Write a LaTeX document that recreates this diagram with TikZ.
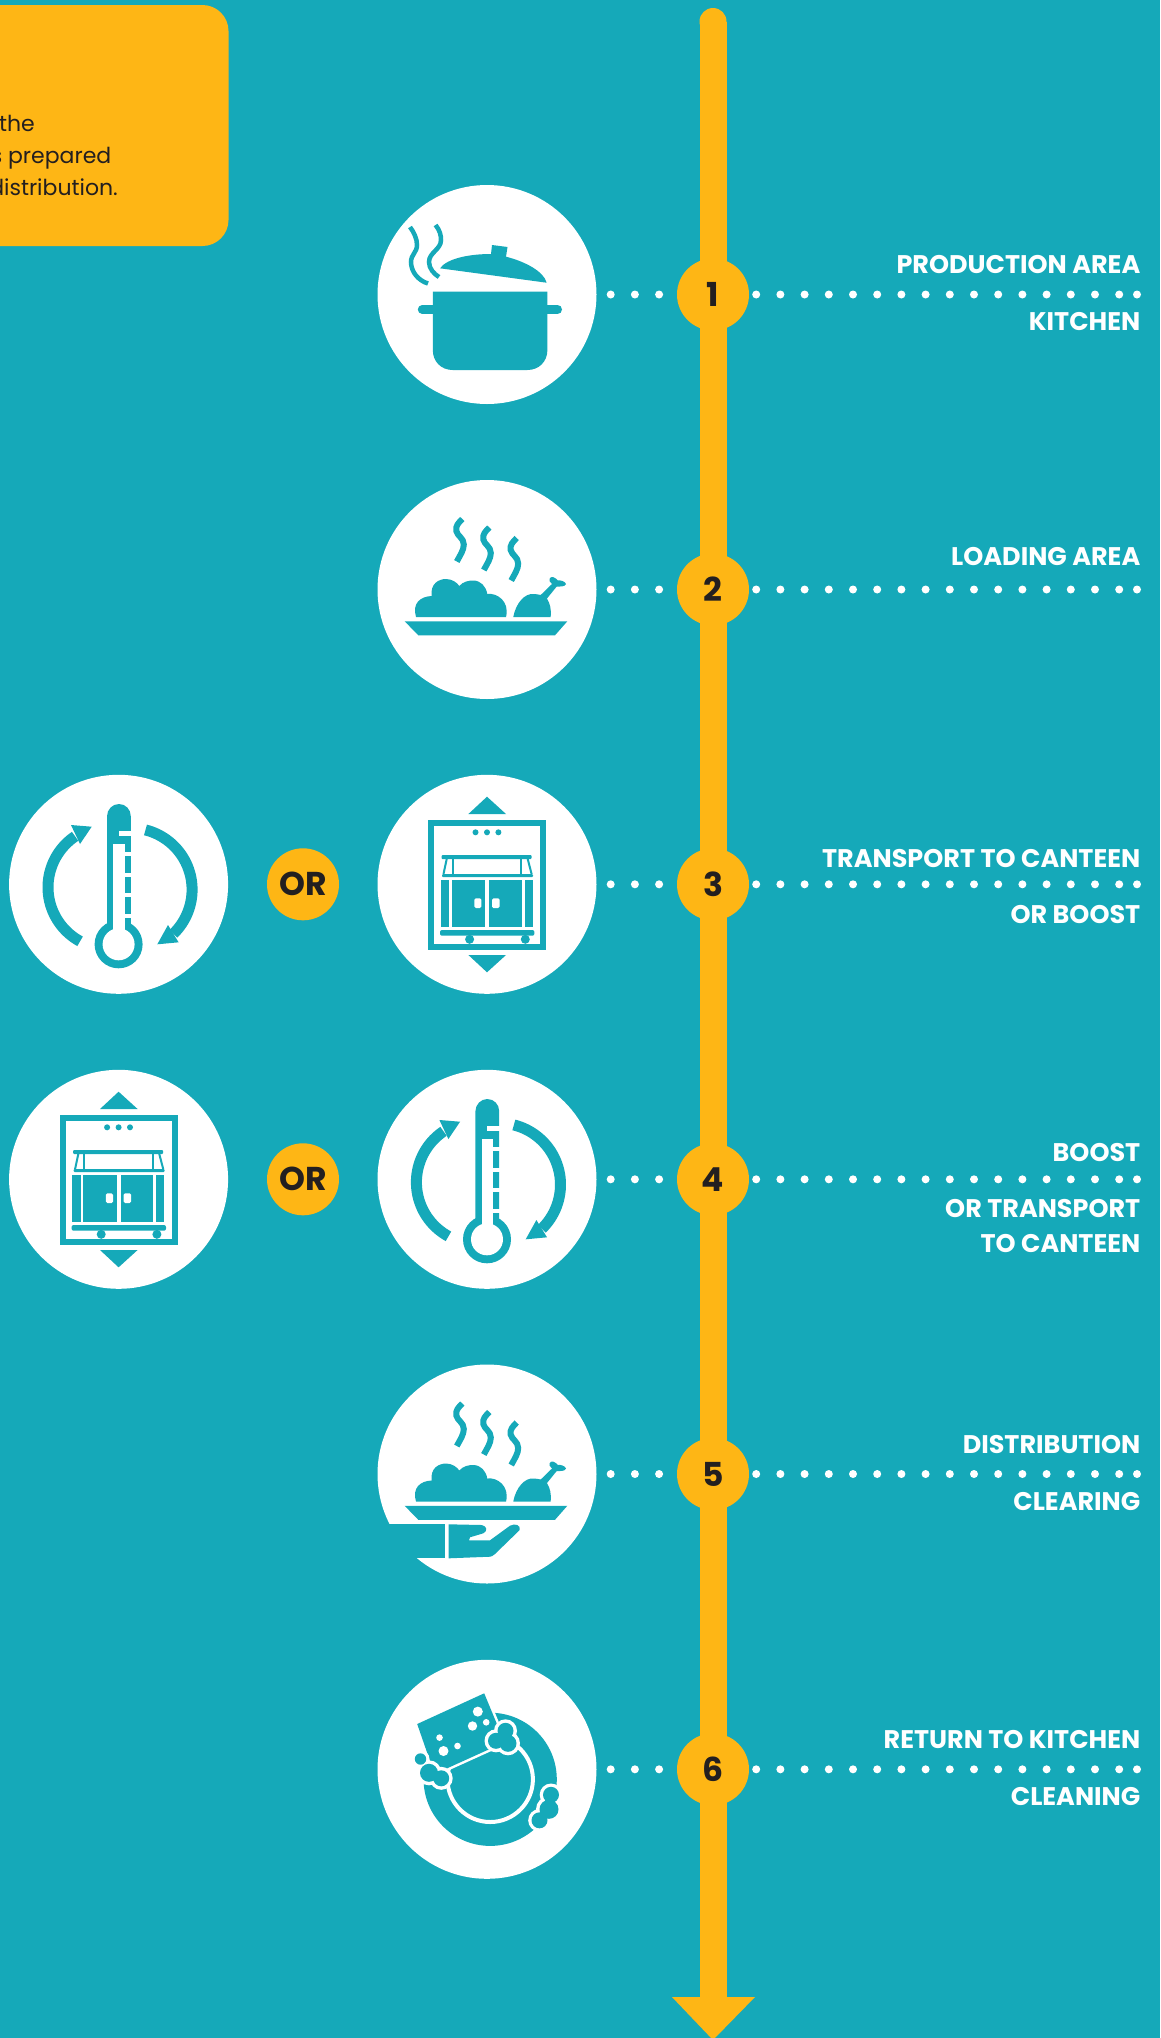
\documentclass[tikz,border=0pt]{standalone}
\usepackage{fontspec}
\setmainfont{Poppins}
\definecolor{tealbg}{HTML}{15A9B9}
\definecolor{amber}{HTML}{FEB615}
\definecolor{ink}{HTML}{231F20}
\newcommand{\squig}[2]{\begin{scope}[shift={(#1,#2)}]\draw[tealbg,line width=6pt] (0,0) .. controls (-4,4) and (-7,7) .. (-6,12) .. controls (-5,17) and (1.5,19) .. (1.5,25.5) .. controls (1.5,31) and (-2,36) .. (-5.5,42.5);\end{scope}}
\tikzset{
  disc/.style={circle,fill=white,minimum size=219pt,inner sep=0pt},
  numdisc/.style={circle,fill=amber,text=ink,minimum size=72pt,inner sep=0pt,font=\fontsize{33}{33}\bfseries\selectfont},
  lab/.style={text=white,inner sep=0pt,anchor=base east,font=\fontsize{25.5}{30}\bfseries\selectfont},
  bodytext/.style={text=ink,inner sep=0pt,anchor=base east,font=\fontsize{22}{30}\selectfont},
  dotline/.style={white,line width=8pt,line cap=round,dash pattern=on 0pt off 24.2pt},
  enddot/.style={circle,fill=white,minimum size=8pt,inner sep=0pt},
  pics/pot/.style={code={
    \draw[tealbg,line width=9pt,line cap=round] (-64.7,15) -- (70.5,15);
    \fill[tealbg] (-54.2,-2.8) -- (60.4,-2.8) -- (60.4,55.5) .. controls (60.4,67) and (52,75.5) .. (40.4,75.5) -- (-34.2,75.5) .. controls (-46,75.5) and (-54.2,67) .. (-54.2,55.5) -- cycle;
    \fill[tealbg] (-47,-26.2) .. controls (-40,-36) and (-18,-40.5) .. (4,-40.5) -- (5,-49.5) -- (20.5,-47.5) -- (19,-37.8) .. controls (38,-33) and (57,-23) .. (59.6,-11.8) -- cycle;
    \draw[tealbg,line width=4.5pt] (-77,-67.5) .. controls (-73,-62) and (-70,-56) .. (-70,-49.5) .. controls (-70,-42) and (-76,-40) .. (-76,-32.5) .. controls (-76,-23) and (-69,-14) .. (-59,-11);
    \draw[tealbg,line width=4.5pt] (-51.4,-69.5) .. controls (-47,-64) and (-46,-59) .. (-46,-54.5) .. controls (-46,-45) and (-58,-42) .. (-58,-32.5) .. controls (-58,-26) and (-53,-20.5) .. (-48,-17.5);
  }},
  pics/dish/.style={code={
    \squig{-24.7}{-70.5}\squig{2.3}{-62}\squig{29.7}{-51.5}
    \fill[tealbg] (-82.3,31.8) -- (80.3,31.8) -- (68,45.8) -- (-68.7,45.8) -- cycle;
    \fill[tealbg] (-71,27.5) .. controls (-75,14) and (-67,7) .. (-55.3,6.5) .. controls (-57,-6) and (-48,-10.5) .. (-41,-10.5) .. controls (-35,-10.5) and (-30,-7) .. (-27.7,-3.5) .. controls (-24,-8) and (-18,-9) .. (-14,-9) .. controls (-6,-9) and (-1,-3) .. (0.3,4.5) .. controls (10,3) and (23,12) .. (19,27.5) -- cycle;
    \fill[tealbg] (26.3,27.5) .. controls (29,13) and (38,4) .. (46,4.5) .. controls (49,4.5) and (52,5) .. (53.7,5.5) -- (65,-5.5) .. controls (60,-9.5) and (63,-13) .. (66,-12.5) .. controls (68,-12) and (70,-10) .. (71,-9) .. controls (73,-9.5) and (78,-8.5) .. (79,-5.5) .. controls (78,-2.5) and (73,-3) .. (69.7,-3) -- (60,9) .. controls (63,14) and (64.5,20) .. (63.7,27.5) -- cycle;
  }},
  pics/serve/.style={code={
    \pic {dish};
    \fill[tealbg] (-120,50.3) rectangle (-42.3,84.3);
    \fill[tealbg] (-38.3,50.3) -- (-5.3,51) .. controls (0,52) and (1,57) .. (-3.7,59.3) -- (-17,63.3) -- (-18,66.3) -- (3,66.3) -- (23,51.7) .. controls (28,49) and (34,51) .. (32.7,56) -- (8,80) .. controls (6,82) and (4,82.7) .. (3,82.7) -- (-38.3,84.3) -- cycle;
  }},
  pics/lift/.style={code={
    \draw[tealbg,line width=6pt] (-56,-61.3) rectangle (56,62.7);
    \fill[tealbg] (0,-87.6) -- (-18.6,-70.3) -- (19,-70.3) -- cycle;
    \fill[tealbg] (-18.6,70.7) -- (19,70.7) -- (0,88) -- cycle;
    \foreach \px in {-11.5,0,11.4} {\fill[tealbg] (\px,-52) circle[radius=3pt];}
    \fill[tealbg,rounded corners=1pt] (-45.5,-29.3) rectangle (44.6,-25.3);
    \fill[tealbg,rounded corners=1pt] (-45,-10.3) rectangle (46,-7.3);
    \draw[tealbg,line width=2pt] (-40.3,-25.3) -- (-43.5,-10.3);
    \draw[tealbg,line width=2pt] (-34.4,-25.3) -- (-34.4,-10.3);
    \draw[tealbg,line width=2pt] (34,-25.3) -- (34,-10.3);
    \draw[tealbg,line width=2pt] (40.7,-25.3) -- (44.6,-10.3);
    \fill[tealbg] (-46.3,-4.3) rectangle (-37.6,42.4);
    \fill[tealbg] (-35.2,-4.3) rectangle (-2,42.4);
    \fill[tealbg] (2,-4.3) rectangle (34.8,42.4);
    \fill[tealbg] (37.5,-4.3) rectangle (45.8,42.4);
    \fill[white,rounded corners=1.5pt] (-12.7,14) rectangle (-5.6,23.7);
    \fill[white,rounded corners=1.5pt] (5,14) rectangle (12.6,23.7);
    \fill[tealbg,rounded corners=2pt] (-47,45.7) rectangle (47.4,51.4);
    \fill[tealbg] (-17.4,55) circle[radius=4.5pt];
    \fill[tealbg] (38.3,55) circle[radius=4.5pt];
  }},
  pics/thermo/.style={code={
    \fill[tealbg] (-11.6,60) -- (-11.6,-68) .. controls (-11.6,-75) and (-6,-80.3) .. (0.3,-80.3) .. controls (7,-80.3) and (12.2,-75) .. (12.2,-68) -- (12.2,60) -- cycle;
    \fill[tealbg] (0,60) circle[radius=24pt];
    \fill[white] (-5.2,-40.3) rectangle (5.9,50);
    \fill[white] (0,60) circle[radius=16pt];
    \fill[white] (0.4,-53.3) rectangle (12.5,-48.6);
    \foreach \ty in {-32.3,-11.6,9,29.7} {\fill[white] (5.5,\ty) rectangle (12.5,\ty+4);}
    \draw[tealbg,line width=11pt] plot[domain=118.6:236,samples=40,variable=\t] ({-9.1+61.5*cos(\t)},{3+61.5*sin(\t)});
    \fill[tealbg] (-26.9,-57.6) -- (-47.6,-59.3) -- (-38.6,-40.3) -- cycle;
    \draw[tealbg,line width=11pt] plot[domain=-76:45.9,samples=40,variable=\t] ({12+61.5*cos(\t)},{5.3+61.5*sin(\t)});
    \fill[tealbg] (38.7,60) -- (49.4,40.7) -- (60,58) -- cycle;
  }},
  pics/sponge/.style={code={
    \fill[tealbg] (3.2,10) circle[radius=66.6pt];
    \draw[white,line width=4pt] (3.2,10) circle[radius=42.7pt];
    \fill[tealbg,draw=white,line width=5pt,line join=round] (-69.8,-45.3) -- (-2.8,-76) -- (17.5,-27) -- (-52.5,4.7) -- cycle;
    \fill[tealbg] (-69.8,-45.3) -- (-2.8,-76) -- (17.5,-27) -- (-52.5,4.7) -- cycle;
    \fill[white] (-9.2,-57.7) circle[radius=5pt] (-14.5,-43.3) circle[radius=4.7pt] (-0.8,-47) circle[radius=3.3pt] (-43.5,-18.3) circle[radius=5pt] (-29.5,-23.3) circle[radius=3.3pt] (-47.5,-31.7) circle[radius=3.3pt];
    \fill[white] (18.5,-38.5) circle[radius=11.5pt] (9,-28.5) circle[radius=11.5pt] (21,-26) circle[radius=12pt];
    \fill[tealbg] (18.5,-38.5) circle[radius=8pt] (9,-28.5) circle[radius=8pt] (21,-26) circle[radius=8.5pt];
    \fill[white] (-66.5,-10.3) circle[radius=9pt] (-58,3.5) circle[radius=12.5pt] (-45.8,9) circle[radius=11.5pt];
    \fill[tealbg] (-66.5,-10.3) circle[radius=5.7pt] (-58,3.5) circle[radius=9pt] (-45.8,9) circle[radius=8pt];
    \fill[white] (64,25.5) circle[radius=11.3pt] (62,40) circle[radius=13pt] (52.5,51) circle[radius=11.3pt];
    \fill[tealbg] (64,25.5) circle[radius=8pt] (62,40) circle[radius=9.5pt] (52.5,51) circle[radius=8pt];
  }},
}
\begin{document}
\begin{tikzpicture}[x=1pt,y=-1pt]
\useasboundingbox (0,0) rectangle (1160,2038);
\clip (0,0) rectangle (1160,2038);
\fill[tealbg] (0,0) rectangle (1160,2038);
% note box
\fill[amber,rounded corners=26pt] (-40,5) rectangle (228.5,246);
\node[bodytext] (note1) at (35,131) {the};
\node[bodytext] (note2) at (111.5,163) {s prepared};
\node[bodytext] (note3) at (118,195) {distribution.};
% spine
\coordinate (spinetop) at (713,21.5);
\coordinate (spinebot) at (713,2000);
\draw[amber,line width=27pt] (spinetop) -- (spinebot);
\fill[amber] (spinetop) circle[radius=13.5pt];
\fill[amber] (672,1997) -- (755,1997) -- (713,2040) -- cycle;
% steps
\foreach \n/\yy/\ic in {1/294.5/pot,2/589.5/dish,3/884.3/lift,4/1179.3/thermo,5/1474/serve,6/1769.3/sponge}{
  \node[disc] (icon\n) at (487,\yy) {};
  \pic at (icon\n.center) {\ic};
  \node[numdisc] (num\n) at (713,\yy) {\raisebox{-1.5pt}{\n}};
  \node[enddot] (end\n) at (1137,\yy) {};
  \draw[dotline,shorten <=14pt,shorten >=0pt] (icon\n.east) -- (num\n.west);
  \draw[dotline,shorten <=7pt,shorten >=4pt] (num\n.east) -- (end\n.west);
}
% alternatives
\node[disc] (alt3) at (118.6,884.3) {};
\pic at (alt3.center) {thermo};
\node[disc] (alt4) at (118.6,1179.3) {};
\pic at (alt4.center) {lift};
\node[numdisc] (or3) at (303,884.3) {\raisebox{-2.5pt}{OR}};
\node[numdisc] (or4) at (303,1179.3) {\raisebox{-2.5pt}{OR}};
% labels
\node[lab] (l1a) at (1140.5,273.3) {PRODUCTION AREA};
\node[lab] (l1b) at (1140.5,330.3) {KITCHEN};
\node[lab] (l2a) at (1140.5,565.7) {LOADING AREA};
\node[lab] (l3a) at (1140.5,867) {TRANSPORT TO CANTEEN};
\node[lab] (l3b) at (1140.5,923.3) {OR BOOST};
\node[lab] (l4a) at (1140.5,1161) {BOOST};
\node[lab] (l4b) at (1140.5,1217.5) {OR TRANSPORT};
\node[lab] (l4c) at (1140.5,1252.5) {TO CANTEEN};
\node[lab] (l5a) at (1140.5,1453.7) {DISTRIBUTION};
\node[lab] (l5b) at (1140.5,1510) {CLEARING};
\node[lab] (l6a) at (1140.5,1748.7) {RETURN TO KITCHEN};
\node[lab] (l6b) at (1140.5,1805.7) {CLEANING};
\end{tikzpicture}
\end{document}
